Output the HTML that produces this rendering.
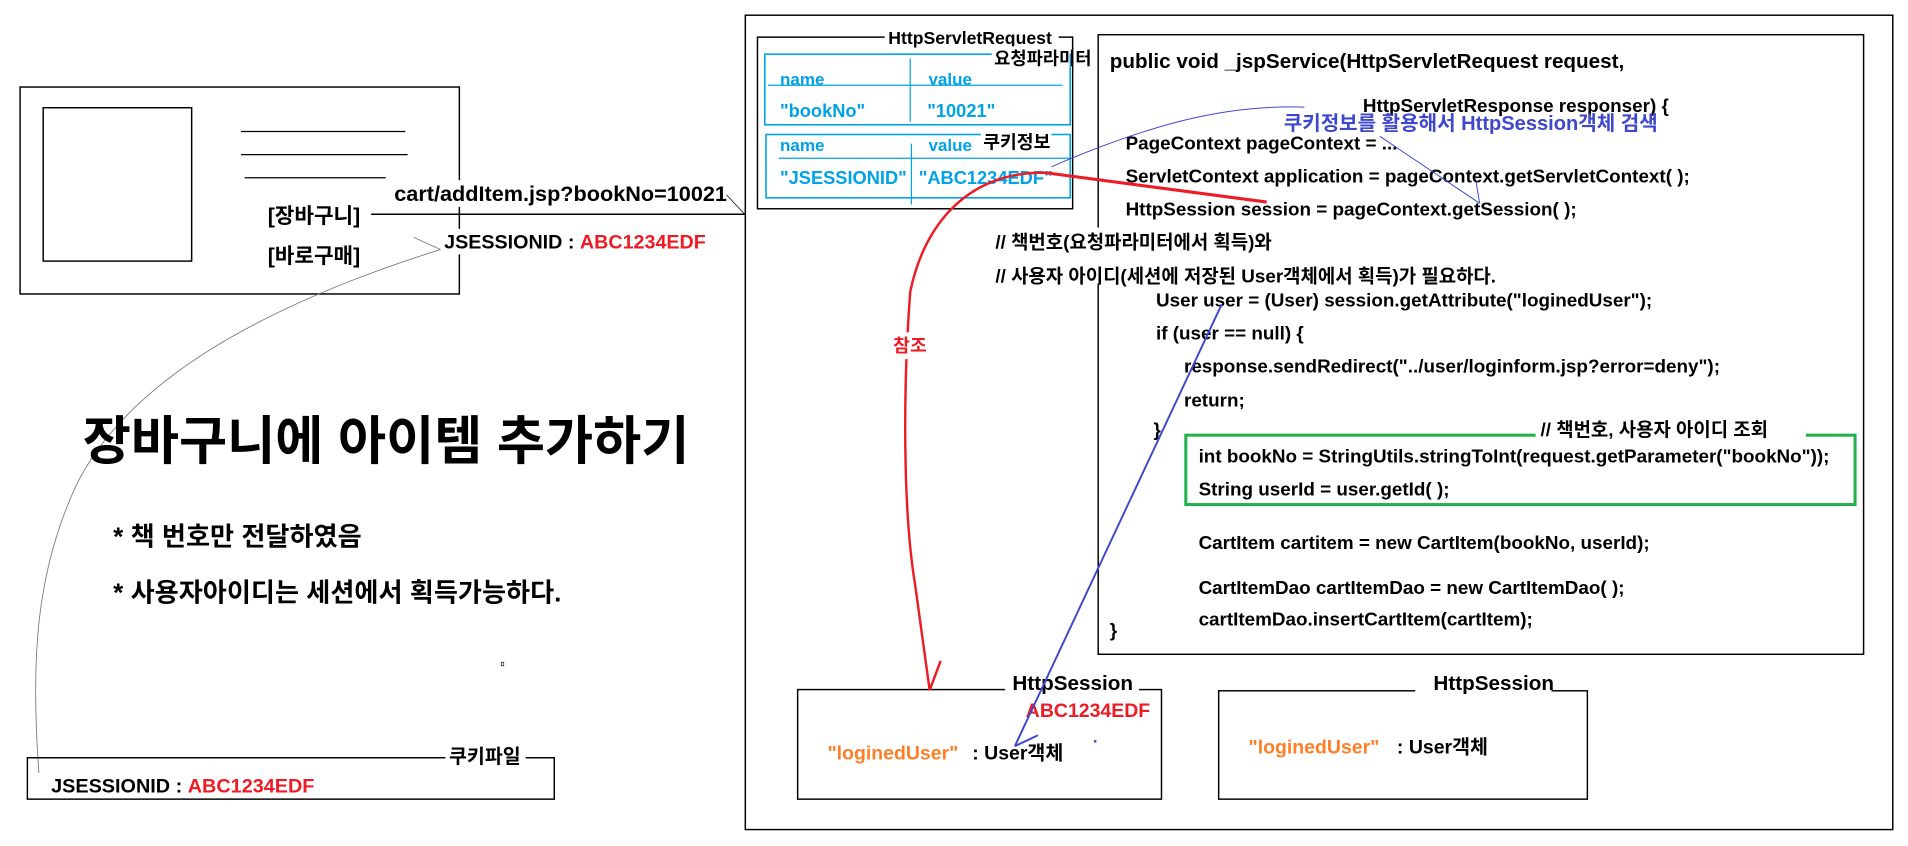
<!DOCTYPE html>
<html><head><meta charset="utf-8"><style>
html,body{margin:0;padding:0;background:#fff;overflow:hidden;}
svg{display:block;}
text{font-family:"Liberation Sans","Noto Sans CJK KR",sans-serif;font-weight:bold;}
</style></head><body>
<svg width="1908" height="846" viewBox="0 0 1568 695" preserveAspectRatio="none" xmlns="http://www.w3.org/2000/svg">
<rect width="1568" height="695" fill="#fff"/>
<!-- cart page box -->
<rect x="16.5" y="71.5" width="361" height="170" fill="none" stroke="#000" stroke-width="1.2"/>
<rect x="35.5" y="88.5" width="122" height="126" fill="none" stroke="#000" stroke-width="1.2"/>
<line x1="198" y1="108" x2="333" y2="108" stroke="#000"/>
<line x1="198" y1="127" x2="335" y2="127" stroke="#000"/>
<line x1="201" y1="146" x2="317" y2="146" stroke="#000"/>
<text x="220" y="183" font-size="17.5">[장바구니]</text>
<text x="220" y="216" font-size="17.5">[바로구매]</text>
<line x1="305" y1="176" x2="612" y2="176" stroke="#000" stroke-width="1.2"/>
<line x1="597" y1="160" x2="612" y2="176" stroke="#000" stroke-width="0.6"/>
<rect x="322" y="148" width="274" height="22" fill="#fff"/>
<text x="324" y="165" font-size="17.8">cart/addItem.jsp?bookNo=10021</text>
<!-- gray curve -->
<path d="M362,205 C250,240 110,300 62,400 C30,470 25,540 32,635" fill="none" stroke="#777" stroke-width="0.7"/>
<line x1="340" y1="195" x2="362" y2="205" stroke="#777" stroke-width="0.7"/>
<rect x="363" y="188" width="222" height="21" fill="#fff"/>
<text x="365" y="204" font-size="16.2">JSESSIONID : <tspan fill="#ed1c24">ABC1234EDF</tspan></text>
<!-- title -->
<text x="68" y="377" font-size="43">장바구니에 아이템 추가하기</text>
<text x="93" y="448" font-size="21.5">* 책 번호만 전달하였음</text>
<text x="93" y="494" font-size="21.5">* 사용자아이디는 세션에서 획득가능하다.</text>
<rect x="412" y="544" width="2" height="3" fill="none" stroke="#000" stroke-width="0.5"/>
<!-- cookie file -->
<rect x="22.5" y="622.5" width="433" height="34" fill="none" stroke="#000" stroke-width="1.2"/>
<rect x="366" y="611" width="66" height="20" fill="#fff"/>
<text x="369" y="627" font-size="16">쿠키파일</text>
<text x="42" y="651" font-size="16.3">JSESSIONID : <tspan fill="#ed1c24">ABC1234EDF</tspan></text>
<!-- big box -->
<rect x="612.5" y="12.5" width="943" height="669" fill="none" stroke="#000" stroke-width="1.2"/>
<!-- request box -->
<rect x="622.5" y="30.5" width="259" height="141" fill="none" stroke="#000" stroke-width="1.2"/>
<rect x="727" y="22" width="143" height="18" fill="#fff"/>
<text x="730" y="36" font-size="14.5">HttpServletRequest</text>
<rect x="628.5" y="44.5" width="251" height="58" fill="none" stroke="#00a2e8" stroke-width="1.3"/>
<rect x="815" y="38" width="64" height="18" fill="#fff"/>
<text x="817" y="53" font-size="14.5">요청파라미터</text>
<line x1="631" y1="70" x2="873" y2="70" stroke="#00a2e8"/>
<line x1="748" y1="48" x2="748" y2="100" stroke="#00a2e8"/>
<text x="641" y="70" font-size="14" fill="#00a2e8">name</text>
<text x="763" y="70" font-size="14" fill="#00a2e8">value</text>
<text x="641" y="96" font-size="15" fill="#00a2e8">"bookNo"</text>
<text x="762" y="96" font-size="15" fill="#00a2e8">"10021"</text>
<rect x="629.5" y="110.5" width="250" height="52" fill="none" stroke="#00a2e8" stroke-width="1.3"/>
<line x1="640" y1="130" x2="880" y2="130" stroke="#00a2e8"/>
<line x1="749" y1="118" x2="749" y2="168" stroke="#00a2e8"/>
<text x="641" y="124" font-size="14" fill="#00a2e8">name</text>
<text x="763" y="124" font-size="14" fill="#00a2e8">value</text>
<rect x="806" y="106" width="58" height="18" fill="#fff"/>
<text x="808" y="122" font-size="15">쿠키정보</text>
<text x="641" y="151" font-size="15" fill="#00a2e8">"JSESSIONID"</text>
<text x="755" y="151" font-size="15" fill="#00a2e8">"ABC1234EDF"</text>
<!-- code box -->
<rect x="902.5" y="28.5" width="629" height="509" fill="none" stroke="#000" stroke-width="1.2"/>
<text x="912" y="56" font-size="17">public void _jspService(HttpServletRequest request,</text>
<g font-size="15.5">
<text x="1120" y="92">HttpServletResponse responser) {</text>
<text x="925" y="123">PageContext pageContext = ...</text>
<text x="925" y="150">ServletContext application = pageContext.getServletContext( );</text>
<text x="925" y="177">HttpSession session = pageContext.getSession( );</text>
<rect x="815" y="187" width="370" height="46" fill="#fff"/>
<text x="818" y="204">// 책번호(요청파라미터에서 획득)와</text>
<text x="818" y="232">// 사용자 아이디(세션에 저장된 User객체에서 획득)가 필요하다.</text>
<text x="950" y="252">User user = (User) session.getAttribute("loginedUser");</text>
<text x="950" y="279">if (user == null) {</text>
<text x="973" y="306">response.sendRedirect("../user/loginform.jsp?error=deny");</text>
<text x="973" y="334">return;</text>
<text x="948" y="358">}</text>
<rect x="974.5" y="357.5" width="550" height="57" fill="none" stroke="#22b14c" stroke-width="2.5"/>
<rect x="1262" y="343" width="222" height="18" fill="#fff"/>
<text x="1266" y="358">// 책번호, 사용자 아이디 조회</text>
<text x="985" y="380">int bookNo = StringUtils.stringToInt(request.getParameter("bookNo"));</text>
<text x="985" y="407">String userId = user.getId( );</text>
<text x="985" y="451">CartItem cartitem = new CartItem(bookNo, userId);</text>
<text x="985" y="488">CartItemDao cartItemDao = new CartItemDao( );</text>
<text x="985" y="514">cartItemDao.insertCartItem(cartItem);</text>
<text x="912" y="523">}</text>
</g>
<text x="1055" y="107" font-size="16.5" fill="#3f48cc">쿠키정보를 활용해서 HttpSession객체 검색</text>
<!-- sessions -->
<rect x="655.5" y="566.5" width="299" height="90" fill="none" stroke="#000" stroke-width="1.2"/>
<rect x="826" y="551" width="110" height="20" fill="#fff"/>
<text x="832" y="567" font-size="17">HttpSession</text>
<text x="843" y="589" font-size="16" fill="#ed1c24">ABC1234EDF</text>
<text x="680" y="624" font-size="16" fill="#ff7f27">"loginedUser"</text>
<text x="799" y="624" font-size="16">: User객체</text>
<rect x="899" y="608" width="2" height="2" fill="#3f48cc"/>
<rect x="1001.5" y="567.5" width="303" height="89" fill="none" stroke="#000" stroke-width="1.2"/>
<rect x="1163" y="551" width="112" height="20" fill="#fff"/>
<text x="1178" y="567" font-size="17">HttpSession</text>
<text x="1026" y="619" font-size="16" fill="#ff7f27">"loginedUser"</text>
<text x="1148" y="619" font-size="16">: User객체</text>
<!-- red connector -->
<path d="M860,142 L1041,166" fill="none" stroke="#ed1c24" stroke-width="2.5"/>
<path d="M860,142 C800,140 760,180 748,240 C742,320 742,420 752,480 L764,567" fill="none" stroke="#ed1c24" stroke-width="2"/>
<line x1="764" y1="567" x2="773" y2="543" stroke="#ed1c24" stroke-width="2"/>
<rect x="733" y="273" width="32" height="22" fill="#fff"/>
<text x="734" y="289" font-size="15" fill="#ed1c24">참조</text>
<!-- blue connectors -->
<path d="M864,137 C950,100 1010,86 1072,88" fill="none" stroke="#3f48cc" stroke-width="0.8"/>
<line x1="1134" y1="112" x2="1216" y2="167" stroke="#3f48cc" stroke-width="0.8"/>
<line x1="1213" y1="149" x2="1216" y2="167" stroke="#3f48cc" stroke-width="0.8"/>
<line x1="1004" y1="250" x2="834" y2="613" stroke="#3f48cc" stroke-width="1.6"/>
<line x1="834" y1="613" x2="853" y2="604" stroke="#3f48cc" stroke-width="1.6"/>
</svg>
</body></html>
